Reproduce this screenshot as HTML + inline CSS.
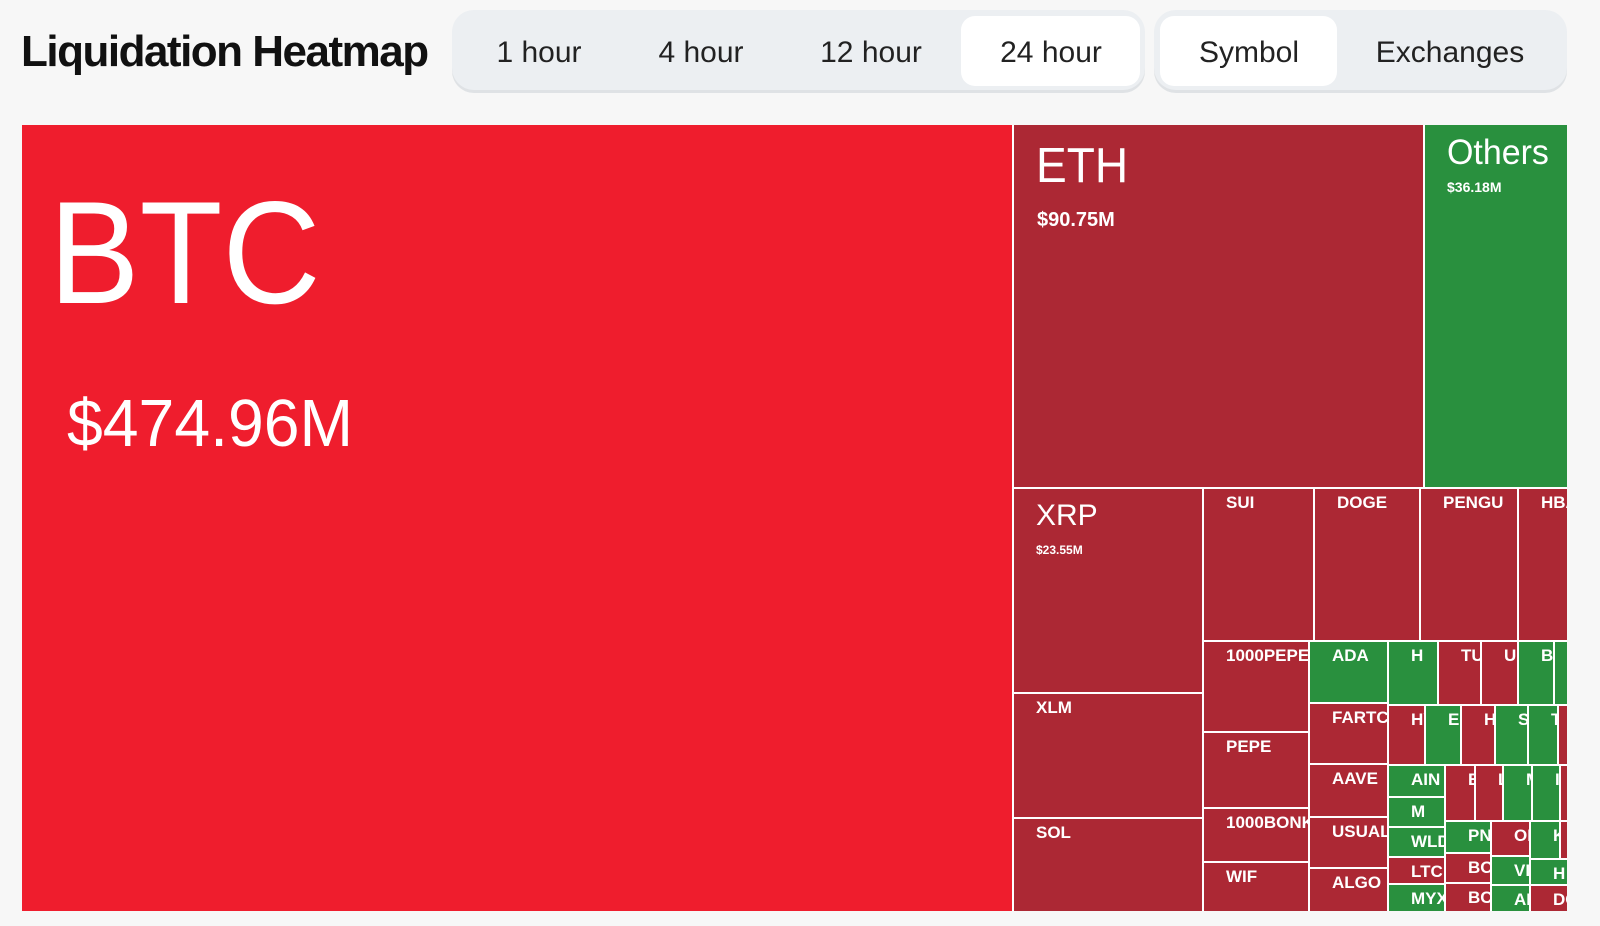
<!DOCTYPE html>
<html><head><meta charset="utf-8"><style>
*{margin:0;padding:0;box-sizing:border-box}
body{width:1600px;height:926px;background:#f7f7f7;font-family:"Liberation Sans",sans-serif;position:relative;overflow:hidden}
.t{position:absolute;left:21px;top:27px;font-size:44px;font-weight:bold;letter-spacing:-1.5px;color:#111}
.pill{position:absolute;top:10px;height:80px;background:#eceff2;border-radius:22px;box-shadow:0 3px 0 #dfe2e5}
.act{position:absolute;top:16px;height:70px;background:#fff;border-radius:14px}
.pt{position:absolute;top:36px;font-size:30px;color:#222;transform:translateX(-50%);white-space:nowrap}
#tm{position:absolute;left:22px;top:125px;width:1545px;height:786px;background:#fff}
.c{position:absolute;overflow:hidden;color:#fff}
.c span{position:absolute;left:22px;top:4px;font-size:17px;font-weight:bold;white-space:nowrap}
.R{background:#ac2834}.G{background:#29903e}.B{background:#ef1d2d}
</style></head><body>
<div class="t">Liquidation Heatmap</div>
<div class="pill" style="left:452px;width:693px"></div>
<div class="act" style="left:961px;width:179px"></div>
<div class="pill" style="left:1154px;width:413px"></div>
<div class="act" style="left:1160px;width:177px"></div>
<div class="pt" style="left:539px">1 hour</div>
<div class="pt" style="left:701px">4 hour</div>
<div class="pt" style="left:871px">12 hour</div>
<div class="pt" style="left:1051px">24 hour</div>
<div class="pt" style="left:1249px">Symbol</div>
<div class="pt" style="left:1450px">Exchanges</div>
<div id="tm"></div>
<div id="cells"></div>
<script>
var d=[
[22,125,1012,911,'B',''],
[1014,125,1423,487,'R',''],
[1425,125,1567,487,'G',''],
[1014,489,1202,692,'R',''],
[1014,694,1202,817,'R','XLM'],
[1014,819,1202,911,'R','SOL'],
[1204,489,1313,640,'R','SUI'],
[1315,489,1419,640,'R','DOGE'],
[1421,489,1517,640,'R','PENGU'],
[1519,489,1567,640,'R','HBAR'],
[1204,642,1308,731,'R','1000PEPE'],
[1204,733,1308,807,'R','PEPE'],
[1204,809,1308,861,'R','1000BONK'],
[1204,863,1308,911,'R','WIF'],
[1310,642,1387,702,'G','ADA'],
[1310,704,1387,763,'R','FARTCOIN'],
[1310,765,1387,816,'R','AAVE'],
[1310,818,1387,867,'R','USUAL'],
[1310,869,1387,911,'R','ALGO'],
[1389,642,1437,704,'G','H'],
[1439,642,1480,704,'R','TUT'],
[1482,642,1517,704,'R','UNI'],
[1519,642,1553,704,'G','BNB'],
[1555,642,1567,704,'G',''],
[1389,706,1424,764,'R','HYPE'],
[1426,706,1460,764,'G','ENA'],
[1462,706,1494,764,'R','HY'],
[1496,706,1527,764,'G','SEI'],
[1529,706,1557,764,'G','TRX'],
[1559,706,1567,764,'R',''],
[1389,766,1444,796,'G','AIN'],
[1389,798,1444,826,'G','M'],
[1389,828,1444,856,'G','WLD'],
[1389,858,1444,883,'R','LTC'],
[1389,885,1444,911,'G','MYX'],
[1446,766,1474,820,'R','E'],
[1476,766,1502,820,'R','L'],
[1504,766,1531,820,'G','M'],
[1533,766,1559,820,'G','I'],
[1561,766,1567,820,'R',''],
[1446,822,1490,852,'G','PNUT'],
[1446,854,1490,882,'R','BOME'],
[1446,884,1490,911,'R','BCH'],
[1492,822,1529,855,'R','OP'],
[1492,857,1529,884,'G','VIRT'],
[1492,886,1529,911,'G','AI'],
[1531,822,1559,858,'G','K'],
[1561,822,1567,858,'R',''],
[1531,860,1567,884,'G','H'],
[1531,886,1567,911,'R','DOT']
];
var h='';
d.forEach(function(a){
h+='<div class="c '+a[4]+'" style="left:'+a[0]+'px;top:'+a[1]+'px;width:'+(a[2]-a[0])+'px;height:'+(a[3]-a[1])+'px">'+(a[5]?'<span>'+a[5]+'</span>':'')+'</div>';
});
document.getElementById('cells').innerHTML=h;
</script>
<div style="position:absolute;left:49px;top:180px;font-size:146px;color:#fff;line-height:1;transform:scaleX(0.93);transform-origin:0 0">BTC</div>
<div style="position:absolute;left:67px;top:390px;font-size:67px;color:#fff;line-height:1;transform:scaleX(0.96);transform-origin:0 0">$474.96M</div>
<div style="position:absolute;left:1036px;top:142px;font-size:49px;color:#fff;line-height:1;transform:scaleX(0.94);transform-origin:0 0">ETH</div>
<div style="position:absolute;left:1037px;top:210px;font-size:20px;font-weight:bold;color:#fff;line-height:1">$90.75M</div>
<div style="position:absolute;left:1447px;top:135px;font-size:35px;color:#fff;line-height:1;transform:scaleX(0.97);transform-origin:0 0">Others</div>
<div style="position:absolute;left:1447px;top:180px;font-size:14px;font-weight:bold;color:#fff;line-height:1">$36.18M</div>
<div style="position:absolute;left:1036px;top:501px;font-size:30px;color:#fff;line-height:1">XRP</div>
<div style="position:absolute;left:1036px;top:544px;font-size:12px;font-weight:bold;color:#fff;line-height:1">$23.55M</div>
</body></html>
